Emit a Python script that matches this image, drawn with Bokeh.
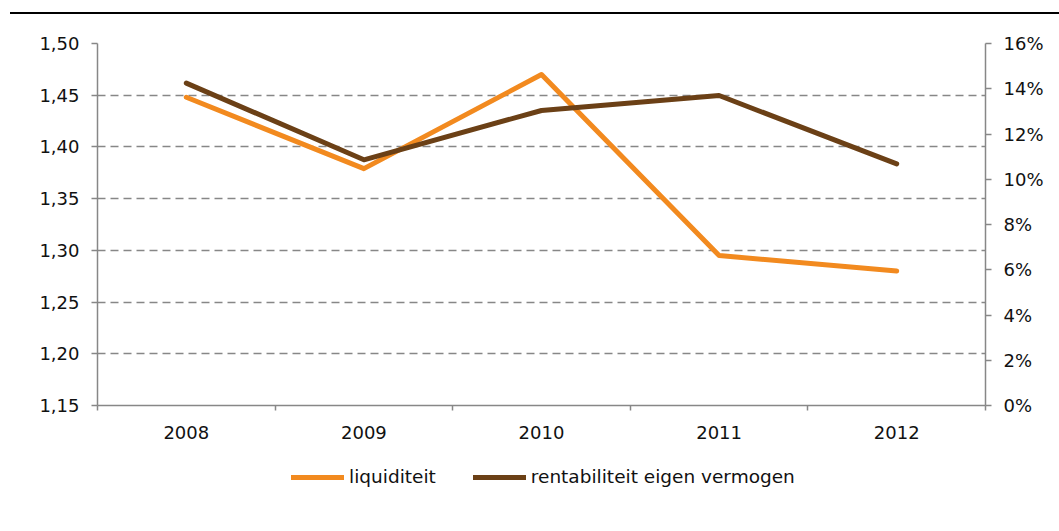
from bokeh.plotting import figure
from bokeh.models import (FactorRange, Range1d, LinearAxis, FixedTicker, CustomJSTickFormatter,
                          NumeralTickFormatter, Grid, Legend, LegendItem, ColumnDataSource, Div)
from bokeh.layouts import column
from bokeh.embed import file_html
from bokeh.resources import INLINE

years = ["2008", "2009", "2010", "2011", "2012"]
liquiditeit = [1.448, 1.379, 1.470, 1.295, 1.280]
rentabiliteit = [0.1425, 0.1086, 0.1304, 0.1370, 0.1068]
left_ticks = [1.15, 1.20, 1.25, 1.30, 1.35, 1.40, 1.45, 1.50]
right_ticks = [0.0, 0.02, 0.04, 0.06, 0.08, 0.10, 0.12, 0.14, 0.16]
series_names = ["liquiditeit", "rentabiliteit eigen vermogen"]

FONT = "DejaVu Sans"
FS = "18px"
AX = "#878787"
ORANGE = "#F28A1F"
BROWN = "#6B4016"

src = ColumnDataSource(dict(year=years, liq=liquiditeit, ren=rentabiliteit))

p = figure(width=1058, height=441, x_range=FactorRange(*years), y_range=Range1d(1.15, 1.50),
           output_backend="svg", toolbar_location=None, x_axis_location=None, y_axis_location=None,
           title=None, min_border_left=97, min_border_right=73, min_border_top=29,
           min_border_bottom=50)
p.outline_line_color = None
p.center = [c for c in p.center if not isinstance(c, Grid)]
p.extra_y_ranges = {"pct": Range1d(0, 0.16)}

def style(ax):
    ax.axis_line_color = AX
    ax.axis_line_width = 1.5
    ax.major_tick_line_color = AX
    ax.major_tick_line_width = 1.5
    ax.minor_tick_line_color = None
    ax.major_label_text_font = FONT
    ax.major_label_text_font_size = FS
    ax.major_label_text_color = "#111111"

lt = FixedTicker(ticks=left_ticks)
yl = LinearAxis(ticker=lt, formatter=CustomJSTickFormatter(code="return tick.toFixed(2).replace('.', ',');"))
style(yl)
yl.major_tick_in = 0
yl.major_tick_out = 6
yl.major_label_standoff = 12
p.add_layout(yl, "left")

yr = LinearAxis(y_range_name="pct", ticker=FixedTicker(ticks=right_ticks),
                formatter=NumeralTickFormatter(format="0%"))
style(yr)
yr.major_tick_in = 0
yr.major_tick_out = 6
yr.major_label_standoff = 12
p.add_layout(yr, "right")

centers = [i + 0.5 for i in range(len(years))]
bounds = [float(i) for i in range(len(years) + 1)]
xa = LinearAxis(ticker=FixedTicker(ticks=centers, minor_ticks=bounds),
                formatter=CustomJSTickFormatter(args=dict(years=years),
                                                code="return years[Math.floor(tick)];"))
style(xa)
xa.major_tick_line_color = None
xa.minor_tick_line_color = AX
xa.minor_tick_line_width = 1.5
xa.minor_tick_in = 0
xa.minor_tick_out = 5
xa.major_label_standoff = 14
p.add_layout(xa, "below")

p.add_layout(Grid(dimension=1, ticker=lt, grid_line_color=AX, grid_line_dash="8 5",
                  grid_line_width=1.5))

p.line("year", "liq", source=src, line_color=ORANGE, line_width=5,
       line_cap="round", line_join="round")
p.line("year", "ren", source=src, y_range_name="pct", line_color=BROWN, line_width=5,
       line_cap="round", line_join="round")

# legend strip: same series drawn out of view, only the legend shows
q = figure(width=1058, height=60, x_range=FactorRange(*years), y_range=Range1d(5, 6),
           output_backend="svg", toolbar_location=None, x_axis_location=None,
           y_axis_location=None, title=None, min_border=0)
q.outline_line_color = None
q.center = [c for c in q.center if not isinstance(c, Grid)]
l1 = q.line("year", "liq", source=src, line_color=ORANGE, line_width=5, line_cap="round")
l2 = q.line("year", "ren", source=src, line_color=BROWN, line_width=5, line_cap="round")
leg = Legend(items=[LegendItem(label=series_names[0], renderers=[l1]),
                    LegendItem(label=series_names[1], renderers=[l2])],
             orientation="horizontal", location=(194, 28), glyph_width=53, glyph_height=20,
             label_standoff=5, spacing=37, padding=0, margin=0, border_line_color=None,
             background_fill_alpha=0, label_text_font=FONT, label_text_font_size="18.5px",
             label_text_color="#111111")
q.add_layout(leg)

top = Div(width=1049, height=2, margin=(12, 0, 0, 10), styles={"background-color": "black"})
layout = column(top, p, q, spacing=0)

open("out.html", "w").write(file_html(layout, INLINE))
